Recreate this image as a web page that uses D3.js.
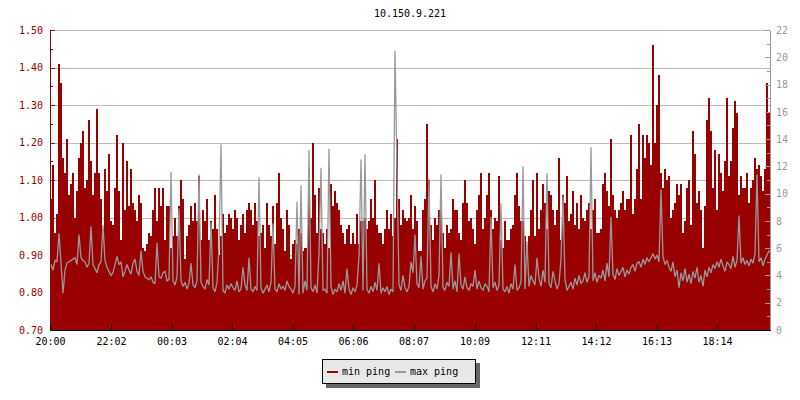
<!DOCTYPE html>
<html><head><meta charset="utf-8">
<script src="https://cdn.jsdelivr.net/npm/d3@7"></script>
<style>
body{margin:0;background:#fff}
svg{display:block}
text{font-family:"DejaVu Sans Mono",monospace;font-size:10px}
</style>
</head><body><svg id="c" width="800" height="400"></svg>
<script>
const title = "10.150.9.221";
const timeLabels = ["20:00","22:02","00:03","02:04","04:05","06:06","08:07","10:09","12:11","14:12","16:13","18:14"];
const leftTicks = [0.70,0.80,0.90,1.00,1.10,1.20,1.30,1.40,1.50];
const leftMinor = [0.75,0.85,0.95,1.05,1.15,1.25,1.35,1.45];
const rightTicks = [0,2,4,6,8,10,12,14,16,18,20,22];
const rightMinor = [1,3,5,7,9,11,13,15,17,19,21];
const seriesNames = ["min ping","max ping"];
const seriesColors = ["#990000","#999999"];
const sampleMinutes = 4;

// min ping (left axis), one value per 4 minutes from 20:00
const minPing = [
1.05,1.14,0.96,1.01,1.41,1.36,1.16,1.12,1.21,1.06,
1.09,1.12,1.00,1.07,1.16,1.20,1.23,1.08,1.10,1.26,
1.15,1.06,1.12,1.29,1.12,1.05,0.97,1.13,1.07,1.17,
0.99,0.98,1.08,1.22,1.07,0.94,1.20,1.02,1.15,1.03,
1.13,1.04,1.02,0.99,1.06,1.04,0.92,0.91,0.93,0.96,
0.95,1.02,1.08,0.99,1.08,1.03,1.08,0.94,1.03,1.03,
0.92,0.95,1.00,0.95,1.03,1.10,1.05,0.89,0.95,0.98,
1.03,0.99,1.04,0.99,1.11,0.94,1.02,0.99,1.05,0.94,
0.99,0.97,1.06,0.97,0.90,0.95,1.01,0.96,0.98,1.01,
1.00,0.97,1.02,1.00,0.94,0.98,1.01,0.96,1.02,1.04,
1.02,0.98,1.04,0.99,0.95,0.96,0.98,0.92,1.04,0.98,
0.95,1.03,0.93,1.04,1.12,1.00,0.97,0.91,1.02,0.98,
0.89,0.93,0.94,0.93,0.97,0.96,0.91,0.92,0.92,1.08,
1.00,1.20,1.06,0.96,1.08,0.97,0.96,0.93,0.97,0.92,
1.09,1.03,1.07,1.04,1.02,0.98,0.96,0.93,0.97,0.98,
0.93,0.96,0.93,1.01,0.93,0.99,0.99,1.00,0.97,0.99,
1.05,1.00,1.10,0.98,0.96,0.96,0.93,0.97,1.02,0.97,
1.01,0.95,1.00,1.21,1.05,0.98,1.02,1.00,0.99,1.00,
1.06,0.97,1.03,0.99,0.91,0.91,1.02,1.05,1.25,1.10,
0.98,0.94,1.00,0.98,1.02,1.04,0.96,0.92,0.98,0.96,
0.97,1.05,1.02,1.02,0.96,0.94,1.04,1.10,1.04,0.99,
1.00,0.97,0.93,1.02,1.06,1.12,0.97,1.00,1.06,1.12,
1.02,0.97,1.00,0.99,1.11,0.94,0.92,0.99,0.94,0.94,
0.97,0.98,1.06,1.12,1.03,0.99,0.99,0.95,0.91,0.95,
1.02,1.10,0.95,1.12,0.97,1.02,1.09,1.04,0.97,1.07,
1.06,1.02,0.98,1.02,1.16,0.94,1.06,1.04,1.11,0.99,
1.01,1.07,0.98,1.04,0.97,1.06,1.00,0.99,1.02,1.04,
0.97,1.02,1.05,0.96,0.96,0.97,1.09,1.12,1.07,1.03,
1.21,1.06,1.02,1.00,1.02,1.04,1.07,1.02,1.05,1.05,
1.22,1.01,1.05,1.13,1.25,1.05,1.22,1.16,1.22,1.20,
1.14,1.46,1.20,1.30,1.38,1.12,1.08,1.13,1.10,1.11,
1.00,1.02,1.04,1.09,1.06,1.09,0.96,0.99,1.08,1.10,
0.98,1.23,1.17,1.04,1.07,1.02,0.92,1.03,1.26,1.32,
1.23,1.08,1.18,1.02,1.17,1.12,1.07,1.15,1.32,1.11,
1.15,1.24,1.31,1.28,1.06,1.11,1.08,1.08,1.12,1.04,
1.08,1.10,1.16,1.13,1.14,1.11,1.07,1.13,1.36,1.28
];

// max ping (right axis), same sampling
const maxPing = [
4.8,4.4,5.1,5.0,7.1,4.9,2.7,4.4,4.9,5.0,
5.1,5.2,5.3,4.8,7.0,5.3,5.1,5.0,4.6,4.9,
7.6,4.8,4.5,4.2,4.8,5.0,7.7,5.1,4.6,4.3,
4.0,4.2,4.8,5.4,4.8,5.0,3.9,4.3,4.8,4.4,
4.1,4.9,5.2,4.3,4.0,5.8,4.3,3.9,3.8,3.7,
3.9,3.5,3.4,6.4,3.9,3.8,4.2,4.3,3.6,3.7,
11.6,3.6,3.3,3.9,8.9,3.6,3.2,3.5,3.0,3.4,
4.9,3.3,3.1,3.6,11.4,3.5,3.2,3.0,3.7,3.3,
7.9,3.1,2.8,3.5,6.1,13.6,2.9,2.7,3.3,3.0,
3.4,3.1,2.9,3.6,2.8,3.0,4.6,3.3,2.9,5.3,
3.0,2.8,3.2,2.9,11.2,3.1,2.7,3.0,3.3,2.8,
3.5,7.8,3.0,2.8,3.4,3.0,3.2,2.9,3.6,3.2,
3.0,2.7,3.2,9.4,2.6,10.6,2.7,3.6,2.9,13.2,
3.1,2.8,3.3,2.7,5.6,11.9,2.9,3.0,2.7,13.3,
3.2,2.6,3.0,2.8,3.4,2.9,3.6,2.7,4.5,3.0,
2.6,3.1,2.8,3.3,5.4,12.5,2.9,12.9,3.0,2.7,
3.2,2.8,3.5,2.9,4.9,2.7,3.1,2.8,3.2,2.6,
3.0,2.8,20.5,11.6,3.3,2.9,4.0,3.1,2.8,3.2,
5.0,4.2,7.0,3.4,3.1,5.4,3.0,3.6,3.8,11.1,
3.2,2.8,3.4,3.0,4.0,11.4,3.1,2.9,3.5,3.2,
5.7,3.0,3.6,2.8,5.6,3.3,3.0,3.9,3.1,2.9,
3.4,3.2,4.4,3.0,3.6,3.1,2.9,3.4,3.2,2.8,
8.3,3.1,3.5,2.9,3.3,9.3,3.0,2.8,3.2,2.7,
3.4,3.0,4.8,2.9,3.1,3.5,12.0,3.0,6.5,3.2,
4.0,3.6,3.3,5.3,3.8,3.2,4.4,3.5,11.5,3.4,
3.1,4.3,3.6,3.0,3.4,5.2,9.8,3.7,2.9,3.2,
3.5,3.0,3.8,3.3,4.0,3.4,3.6,4.2,3.5,3.9,
13.4,3.6,4.2,3.5,4.0,3.8,4.4,3.6,4.9,3.9,
8.3,4.1,3.7,4.5,4.0,4.3,4.6,3.9,4.4,4.1,
4.6,4.8,4.3,4.9,5.0,4.6,5.2,4.8,5.3,5.0,
5.3,5.6,5.2,5.5,5.0,10.3,5.4,4.8,5.1,4.6,
4.3,5.0,3.9,4.4,3.1,4.2,3.6,4.5,3.5,4.1,
3.4,4.3,3.8,4.6,3.5,4.0,3.2,4.4,3.9,4.6,
4.2,4.8,4.5,5.0,4.6,5.2,4.7,4.3,5.0,4.8,
4.5,5.4,4.6,5.1,8.4,4.9,5.3,4.8,5.1,4.7,
5.2,4.9,5.6,11.4,5.0,5.3,4.7,5.2,5.5,5.8
];

const W = 800, H = 400;
const M = {left:50, right:770, top:30, bottom:330};
const totalMin = 1440;
const svg = d3.select("#c");

const x = d3.scaleLinear().domain([0,totalMin]).range([M.left,M.right]);
const yL = d3.scaleLinear().domain([leftTicks[0],leftTicks[leftTicks.length-1]]).range([M.bottom,M.top]);
const yR = d3.scaleLinear().domain([rightTicks[0],rightTicks[rightTicks.length-1]]).range([M.bottom,M.top]);

function labelToMin(s){
  const [h,m] = s.split(":").map(Number);
  const start = timeLabels[0].split(":").map(Number);
  return ((h*60+m) - (start[0]*60+start[1]) + 1440) % 1440;
}
const tickMins = timeLabels.map(labelToMin);

// title
svg.append("text").attr("x",(M.left+M.right)/2).attr("y",17).attr("text-anchor","middle").attr("fill","#000").text(title);

// grid
svg.append("g").attr("transform",`translate(${M.left},0)`)
  .call(d3.axisLeft(yL).tickValues(leftTicks.slice(1)).tickSize(-(M.right-M.left)).tickFormat(""))
  .call(g=>g.select(".domain").remove())
  .call(g=>g.selectAll("line").attr("stroke","#bbbbbb").attr("shape-rendering","crispEdges"));

// min ping: stepped area, one step per sample
const minPts = minPing.map((v,i)=>({t:i*sampleMinutes,v}));
minPts.push({t:totalMin, v:minPing[minPing.length-1]});
svg.append("path").datum(minPts)
  .attr("d", d3.area().curve(d3.curveStepAfter).x(d=>x(d.t)).y0(yL(leftTicks[0])).y1(d=>yL(d.v)))
  .attr("fill",seriesColors[0]).attr("shape-rendering","crispEdges");

// max ping: line through sample centres
const half = sampleMinutes/2;
const maxPts = maxPing.map((v,i)=>({t:i*sampleMinutes+half,v}));
const maxLine = [{t:0,v:maxPing[0]}, ...maxPts, {t:totalMin,v:maxPing[maxPing.length-1]}];
svg.append("path").datum(maxLine)
  .attr("d", d3.line().x(d=>x(d.t)).y(d=>yR(d.v)))
  .attr("fill","none").attr("stroke",seriesColors[1]).attr("stroke-width",1.3)
  .attr("stroke-linejoin","miter").attr("stroke-miterlimit",2);

// left axis
const gl = svg.append("g").attr("transform",`translate(${M.left},0)`);
gl.call(d3.axisLeft(yL).tickValues(leftTicks).tickSizeInner(-5).tickSizeOuter(0).tickPadding(7).tickFormat(d3.format(".2f")));
gl.append("g").call(d3.axisLeft(yL).tickValues(leftMinor).tickSizeInner(-3).tickSizeOuter(0).tickFormat(""))
  .call(g=>g.select(".domain").remove());
gl.selectAll("path,line").attr("stroke",seriesColors[0]).attr("shape-rendering","crispEdges");
gl.selectAll("text").attr("fill",seriesColors[0]).style("font-size","10px").style("font-family","DejaVu Sans Mono");

// right axis
const gr = svg.append("g").attr("transform",`translate(${M.right},0)`);
gr.call(d3.axisRight(yR).tickValues(rightTicks).tickSizeInner(-5).tickSizeOuter(0).tickPadding(6));
gr.append("g").call(d3.axisRight(yR).tickValues(rightMinor).tickSizeInner(-3).tickSizeOuter(0).tickFormat(""))
  .call(g=>g.select(".domain").remove());
gr.selectAll("path,line").attr("stroke","#999999").attr("shape-rendering","crispEdges");
gr.selectAll("text").attr("fill","#999999").style("font-size","10px").style("font-family","DejaVu Sans Mono");

// bottom axis
const gb = svg.append("g").attr("transform",`translate(0,${M.bottom})`);
gb.call(d3.axisBottom(x).tickValues(tickMins).tickSizeInner(-5).tickSizeOuter(0).tickPadding(8).tickFormat((d,i)=>timeLabels[i]));
gb.selectAll("path,line").attr("stroke","#000").attr("shape-rendering","crispEdges");
gb.selectAll("text").attr("fill","#000").style("font-size","10px").style("font-family","DejaVu Sans Mono");

// legend
const lg = svg.append("g");
lg.append("rect").attr("x",326).attr("y",363).attr("width",154).attr("height",25).attr("fill","#666666");
lg.append("rect").attr("x",322.5).attr("y",359.5).attr("width",153).attr("height",24).attr("fill","#e8e8e8").attr("stroke","#000").attr("stroke-width",1);
const legX = [327, 395];
seriesNames.forEach((n,i)=>{
  lg.append("line").attr("x1",legX[i]).attr("x2",legX[i]+11).attr("y1",372).attr("y2",372)
    .attr("stroke",seriesColors[i]).attr("stroke-width",2);
  lg.append("text").attr("x",legX[i]+15).attr("y",375).attr("fill","#000").text(n);
});
</script>
</body></html>
